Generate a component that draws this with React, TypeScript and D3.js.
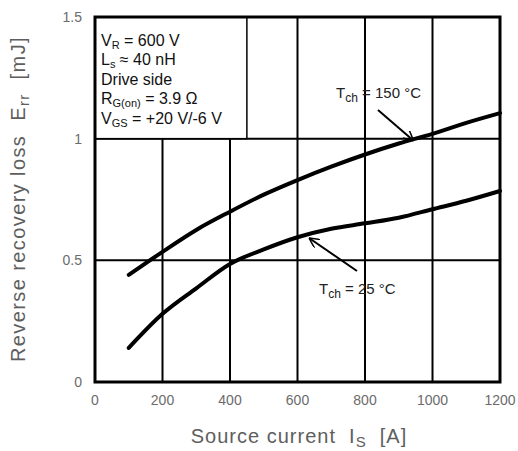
import { useEffect, useRef } from 'react';
import * as d3 from 'd3';

// source current [A]
const currents = [100, 200, 300, 400, 500, 600, 700, 800, 900, 1000, 1100, 1200];
// Err [mJ] at Tch = 150 °C and 25 °C
const err150 = [0.44, 0.535, 0.625, 0.7, 0.77, 0.83, 0.885, 0.935, 0.98, 1.02, 1.065, 1.105];
const err25 = [0.14, 0.28, 0.385, 0.485, 0.545, 0.595, 0.63, 0.652, 0.675, 0.71, 0.745, 0.785];

const xTicks = [0, 200, 400, 600, 800, 1000, 1200];
const yTicks = [0, 0.5, 1, 1.5];
const yTickLabels = ['0', '0.5', '1', '1.5'];

// condition box text: [main, subscript, rest]
const conditions: [string, string, string][] = [
	['V', 'R', ' = 600 V'],
	['L', 's', ' ≈ 40 nH'],
	['Drive side', '', ''],
	['R', 'G(on)', ' = 3.9 Ω'],
	['V', 'GS', ' = +20 V/-6 V'],
];

const FONT = '"Liberation Sans", Arial, sans-serif';

const App = () => {
	const ref = useRef<SVGSVGElement>(null);

	useEffect(() => {
		const svg = d3.select(ref.current);
		svg.selectAll('*').remove();

		const margin = { top: 17, right: 18, bottom: 69, left: 95 };
		const width = 518 - margin.left - margin.right;
		const height = 451 - margin.top - margin.bottom;

		const x = d3.scaleLinear().domain([0, 1200]).range([margin.left, margin.left + width]);
		const y = d3.scaleLinear().domain([0, 1.5]).range([margin.top + height, margin.top]);

		svg.append('rect').attr('width', 518).attr('height', 451).attr('fill', '#fff');

		// grid
		const grid = svg.append('g').attr('stroke', '#000').attr('stroke-width', 2);
		grid
			.selectAll('.vx')
			.data(xTicks.slice(1, -1))
			.join('line')
			.attr('x1', (d) => x(d))
			.attr('x2', (d) => x(d))
			.attr('y1', y(0))
			.attr('y2', y(1.5));
		grid
			.selectAll('.hy')
			.data(yTicks.slice(1, -1))
			.join('line')
			.attr('x1', x(0))
			.attr('x2', x(1200))
			.attr('y1', (d) => y(d))
			.attr('y2', (d) => y(d));

		// conditions box covers the grid top-left
		svg
			.append('rect')
			.attr('x', x(0))
			.attr('y', y(1.5))
			.attr('width', x(450) - x(0))
			.attr('height', y(1) - y(1.5))
			.attr('fill', '#fff')
			.attr('stroke', '#000')
			.attr('stroke-width', 1.5);

		const cond = svg
			.append('g')
			.attr('font-family', FONT)
			.attr('font-size', 16)
			.attr('fill', '#111');
		conditions.forEach((c, i) => {
			const t = cond
				.append('text')
				.attr('x', 101)
				.attr('y', 46 + i * 19.4);
			t.append('tspan').text(c[0]);
			if (c[1]) {
				t.append('tspan').attr('font-size', 11).attr('dy', 3).text(c[1]);
				t.append('tspan').attr('dy', -3).text(c[2]);
			}
		});

		// frame
		svg
			.append('rect')
			.attr('x', x(0))
			.attr('y', y(1.5))
			.attr('width', width)
			.attr('height', height)
			.attr('fill', 'none')
			.attr('stroke', '#000')
			.attr('stroke-width', 3);

		// curves
		const line = d3
			.line<number>()
			.x((_, i) => x(currents[i]))
			.y((d) => y(d))
			.curve(d3.curveMonotoneX);
		[err150, err25].forEach((s) => {
			svg
				.append('path')
				.attr('d', line(s))
				.attr('fill', 'none')
				.attr('stroke', '#000')
				.attr('stroke-width', 4)
				.attr('stroke-linecap', 'round');
		});

		// annotations
		svg
			.append('defs')
			.append('marker')
			.attr('id', 'arr')
			.attr('viewBox', '0 0 10 10')
			.attr('refX', 10)
			.attr('refY', 5)
			.attr('markerWidth', 10)
			.attr('markerHeight', 10)
			.attr('markerUnits', 'userSpaceOnUse')
			.attr('orient', 'auto')
			.append('path')
			.attr('d', 'M0,0 L10,5 L0,10')
			.attr('fill', 'none')
			.attr('stroke', '#000')
			.attr('stroke-width', 1.5);

		const notes = [
			{ label: '150 °C', tx: 336, ty: 98, from: [378, 110], to: [950, 1.0] },
			{ label: '25 °C', tx: 319, ty: 294, from: [357, 271], to: [640, 0.6] },
		];
		notes.forEach((n) => {
			svg
				.append('line')
				.attr('x1', n.from[0])
				.attr('y1', n.from[1])
				.attr('x2', x(n.to[0]) - 2)
				.attr('y2', y(n.to[1]) + 2)
				.attr('stroke', '#000')
				.attr('stroke-width', 2)
				.attr('marker-end', 'url(#arr)');
			const t = svg
				.append('text')
				.attr('x', n.tx)
				.attr('y', n.ty)
				.attr('font-family', FONT)
				.attr('font-size', 15)
				.attr('fill', '#222');
			t.append('tspan').text('T');
			t.append('tspan').attr('font-size', 12).attr('dy', 4).text('ch');
			t.append('tspan').attr('dy', -4).text(' = ' + n.label);
		});

		// tick labels
		const ticks = svg
			.append('g')
			.attr('font-family', FONT)
			.attr('font-size', 14)
			.attr('fill', '#6b6b6b');
		ticks
			.selectAll('.xt')
			.data(xTicks)
			.join('text')
			.attr('x', (d) => x(d))
			.attr('y', 405)
			.attr('text-anchor', 'middle')
			.text((d) => d);
		ticks
			.selectAll('.yt')
			.data(yTicks)
			.join('text')
			.attr('x', 82)
			.attr('y', (d) => y(d) + 5)
			.attr('text-anchor', 'end')
			.text((_, i) => yTickLabels[i]);

		// axis titles
		const xt = svg
			.append('text')
			.attr('x', 299)
			.attr('y', 443)
			.attr('text-anchor', 'middle')
			.attr('font-family', FONT)
			.attr('font-size', 20)
			.attr('letter-spacing', 1)
			.attr('fill', '#5e5e5e')
			.style('white-space', 'pre');
		xt.append('tspan').text('Source current  I');
		xt.append('tspan').attr('font-size', 15).attr('dy', 4).text('S');
		xt.append('tspan').attr('dy', -4).text('  [A]');

		const yt = svg
			.append('text')
			.attr('transform', `translate(25, 199) rotate(-90)`)
			.attr('text-anchor', 'middle')
			.attr('font-family', FONT)
			.attr('font-size', 20)
			.attr('letter-spacing', 1.4)
			.attr('fill', '#5e5e5e')
			.style('white-space', 'pre');
		yt.append('tspan').text('Reverse recovery loss  E');
		yt.append('tspan').attr('font-size', 15).attr('dy', 4).text('rr');
		yt.append('tspan').attr('dy', -4).text('  [mJ]');
	}, []);

	return (
		<svg
			ref={ref}
			width={518}
			height={451}
			style={{ position: 'absolute', left: 0, top: 0 }}
		></svg>
	);
};

export default App;
